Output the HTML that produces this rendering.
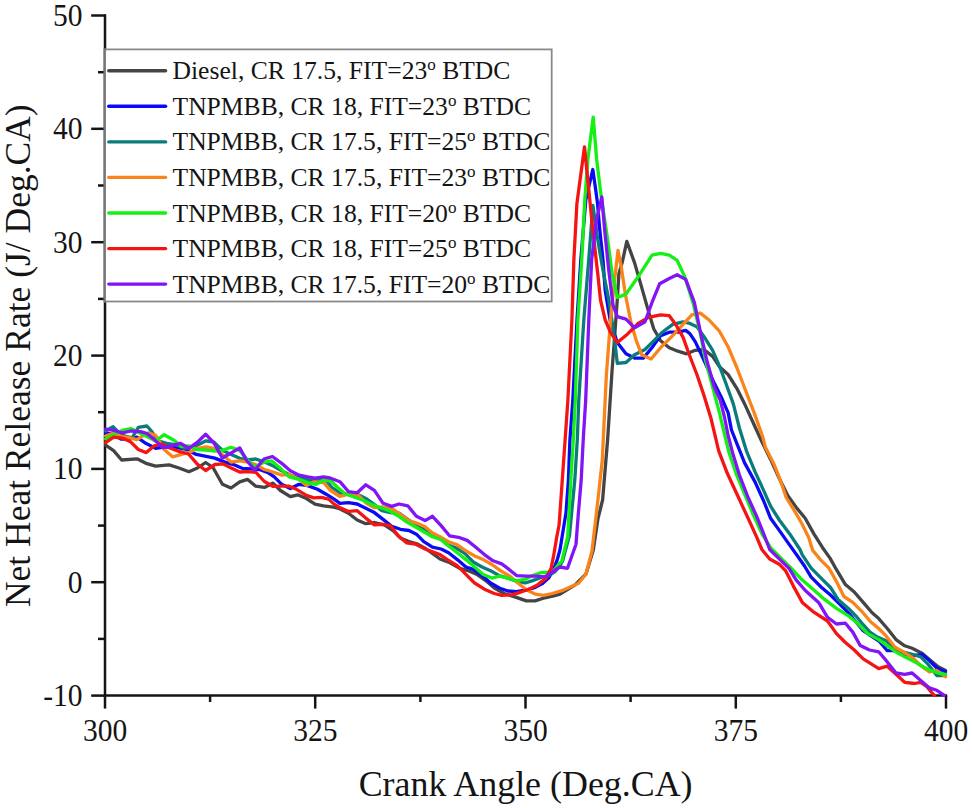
<!DOCTYPE html><html><head><meta charset="utf-8"><style>html,body{margin:0;padding:0;background:#fff;width:972px;height:808px;overflow:hidden}svg{display:block}text{font-family:"Liberation Serif",serif;fill:#141414}</style></head><body>
<svg width="972" height="808" viewBox="0 0 972 808">
<g stroke="#141414" stroke-width="2.5" fill="none">
<line x1="105.0" y1="14.3" x2="105.0" y2="696.8"/>
<line x1="103.8" y1="695.6" x2="947.2" y2="695.6"/>
<line x1="91.2" y1="695.6" x2="105.0" y2="695.6"/>
<line x1="91.2" y1="582.2" x2="105.0" y2="582.2"/>
<line x1="91.2" y1="468.9" x2="105.0" y2="468.9"/>
<line x1="91.2" y1="355.6" x2="105.0" y2="355.6"/>
<line x1="91.2" y1="242.2" x2="105.0" y2="242.2"/>
<line x1="91.2" y1="128.8" x2="105.0" y2="128.8"/>
<line x1="91.2" y1="15.5" x2="105.0" y2="15.5"/>
<line x1="98" y1="638.9" x2="105.0" y2="638.9"/>
<line x1="98" y1="525.6" x2="105.0" y2="525.6"/>
<line x1="98" y1="412.2" x2="105.0" y2="412.2"/>
<line x1="98" y1="298.9" x2="105.0" y2="298.9"/>
<line x1="98" y1="185.5" x2="105.0" y2="185.5"/>
<line x1="98" y1="72.2" x2="105.0" y2="72.2"/>
<line x1="105.0" y1="695.6" x2="105.0" y2="708.6"/>
<line x1="315.2" y1="695.6" x2="315.2" y2="708.6"/>
<line x1="525.5" y1="695.6" x2="525.5" y2="708.6"/>
<line x1="735.8" y1="695.6" x2="735.8" y2="708.6"/>
<line x1="946.0" y1="695.6" x2="946.0" y2="708.6"/>
<line x1="210.1" y1="695.6" x2="210.1" y2="702"/>
<line x1="420.4" y1="695.6" x2="420.4" y2="702"/>
<line x1="630.6" y1="695.6" x2="630.6" y2="702"/>
<line x1="840.9" y1="695.6" x2="840.9" y2="702"/>
</g>
<g fill="none" stroke-width="3.30" stroke-linejoin="round" stroke-linecap="round">
<polyline points="105.6,445.2 113.6,450.7 121.6,460.0 137.0,458.8 146.9,463.7 155.6,466.2 169.1,464.9 179.0,468.0 188.9,471.7 197.5,468.0 205.6,462.5 213.0,467.5 222.4,484.3 231.0,488.0 239.7,481.9 247.7,479.4 255.7,486.2 264.4,487.4 273.0,483.1 280.4,490.5 290.3,496.7 297.7,494.8 306.4,498.5 315.0,504.1 323.6,505.9 333.5,507.2 338.6,508.3 348.5,513.2 357.2,520.0 365.8,523.7 374.4,522.5 384.3,524.9 393.0,530.5 400.4,537.9 409.0,541.6 417.7,544.1 426.3,549.0 440.0,559.0 449.9,562.7 459.8,568.2 469.6,571.3 477.0,574.4 485.7,580.6 494.3,588.0 504.2,593.5 514.1,596.6 526.4,600.9 535.1,600.9 544.9,597.8 553.6,596.0 560.0,594.1 574.8,585.2 586.0,574.0 593.3,550.0 598.0,518.5 602.6,500.0 607.6,440.0 612.1,369.9 613.7,349.3 617.3,299.3 618.9,273.8 622.5,261.2 626.8,241.3 634.6,262.9 641.6,287.1 648.5,311.4 653.7,328.7 660.6,340.8 669.3,347.7 677.9,351.2 686.6,353.8 695.2,350.3 703.9,349.5 712.6,356.4 719.4,366.7 728.1,374.5 736.8,388.3 745.4,405.6 754.1,424.7 762.0,442.1 770.6,459.4 779.3,478.5 787.9,495.8 796.6,507.9 805.2,518.3 813.9,533.9 822.6,547.7 830.0,558.1 836.5,569.7 845.4,584.6 854.3,592.0 863.2,602.4 872.1,612.8 878.7,618.6 887.3,628.5 896.0,639.6 904.7,645.8 912.1,648.3 922.0,653.2 930.6,660.6 938.1,666.8 945.5,670.5" stroke="#444444"/>
<polyline points="105.6,433.5 112.3,434.0 121.0,439.0 129.6,439.0 137.0,437.2 145.7,443.3 155.6,448.3 164.2,447.0 174.0,447.0 186.4,449.5 196.3,454.4 206.2,456.3 214.8,458.1 224.9,462.1 233.5,464.6 242.2,468.3 250.8,468.9 259.4,469.5 268.1,472.6 274.3,476.9 281.7,484.3 290.3,488.6 299.0,484.3 307.6,485.6 317.5,489.3 326.1,494.2 334.1,499.1 339.9,503.3 348.5,502.7 357.2,504.0 365.8,508.3 374.4,512.6 383.1,519.4 391.7,526.2 400.4,529.3 409.0,530.5 416.4,534.2 423.8,541.6 432.5,547.2 441.1,549.0 448.6,552.8 457.3,559.6 465.9,567.0 473.3,569.4 482.0,575.6 490.6,583.0 499.3,588.0 507.9,591.0 516.5,591.7 526.4,589.8 533.8,588.0 542.5,583.6 548.6,578.1 553.6,569.4 557.3,559.6 560.0,549.7 566.0,512.8 568.4,480.0 569.9,440.0 572.8,400.0 577.0,320.0 580.8,260.0 585.8,200.0 592.8,169.5 595.7,189.7 597.5,203.4 599.7,229.3 603.0,260.0 605.2,290.6 610.4,321.8 617.3,342.6 626.0,353.8 634.6,358.1 643.3,358.1 651.9,347.7 660.6,335.6 669.3,332.2 677.9,332.2 685.7,330.4 690.0,333.8 695.2,341.6 700.4,352.5 707.3,367.5 714.2,383.1 721.2,397.0 728.1,412.6 731.5,430.0 737.7,445.6 744.6,462.9 755.0,481.9 763.7,501.0 770.6,518.3 779.3,530.4 787.9,542.6 796.6,554.7 804.5,566.0 811.2,577.1 821.6,587.5 830.5,595.0 839.4,603.9 848.4,612.8 855.8,621.7 863.2,630.6 872.1,636.6 879.0,641.0 887.3,650.7 894.8,650.7 903.4,654.5 913.3,655.7 922.0,654.5 929.4,660.6 936.8,668.0 945.5,671.8" stroke="#0a0af5"/>
<polyline points="105.6,431.0 113.0,426.7 118.5,432.2 124.7,436.0 132.1,437.8 138.3,427.3 146.9,426.0 151.9,431.6 158.0,440.9 166.7,443.3 175.3,444.6 184.0,448.3 193.8,447.0 206.0,440.8 214.0,442.2 222.8,450.6 231.2,454.5 239.7,458.3 247.5,459.8 255.9,459.0 264.4,462.1 273.0,465.8 281.7,470.7 291.5,475.7 301.4,478.1 311.3,480.6 320.0,479.4 326.1,480.6 332.0,487.5 339.9,492.8 348.5,494.7 358.4,494.7 365.8,498.4 374.4,504.6 381.9,510.7 390.5,512.6 399.1,513.2 407.8,519.4 416.4,525.6 425.1,529.3 433.7,534.2 442.3,539.1 447.4,544.8 456.0,547.8 464.7,553.4 473.3,562.0 482.0,567.0 490.6,570.7 499.3,575.6 507.9,578.1 516.5,581.2 525.2,583.0 532.6,580.6 541.2,577.5 548.6,575.6 554.8,571.9 560.0,565.7 562.5,561.3 569.5,535.3 574.8,480.0 577.3,440.0 578.8,400.0 583.8,320.0 588.8,259.0 592.9,205.4 597.7,239.2 601.5,262.0 604.6,278.8 608.7,299.3 613.9,333.9 617.3,363.3 626.0,362.5 634.6,354.7 645.0,349.5 653.7,340.8 662.3,332.2 672.7,324.4 683.1,321.8 690.0,323.4 696.9,326.8 703.9,336.4 712.5,350.2 719.4,365.8 726.4,384.8 733.3,403.9 739.4,428.0 746.4,450.8 755.0,471.6 763.7,490.6 770.6,506.2 779.3,520.0 789.7,533.9 800.0,549.5 802.3,554.9 811.2,568.2 821.6,578.6 830.5,587.5 838.0,599.4 848.4,608.4 855.8,615.8 863.2,624.7 870.0,632.2 877.4,637.1 886.1,640.8 894.8,648.3 903.4,652.0 913.3,654.5 920.7,656.9 928.2,664.4 936.8,675.5 945.5,675.5" stroke="#0a7c7c"/>
<polyline points="105.6,436.0 112.3,433.5 122.2,436.5 129.6,437.8 137.0,439.6 140.7,437.2 148.1,432.8 155.6,435.3 164.2,449.5 172.8,456.9 181.5,454.4 190.1,452.0 197.5,448.3 206.2,447.0 213.6,448.3 222.4,454.7 231.0,462.1 239.7,460.9 248.3,462.1 255.7,464.6 264.4,469.5 273.0,472.0 281.7,475.1 289.1,474.4 299.0,479.4 306.4,485.6 313.8,481.9 323.6,482.5 330.0,490.0 339.9,496.5 348.5,494.1 358.4,495.3 365.8,502.7 374.4,507.7 383.1,507.0 391.7,508.3 400.4,514.4 409.0,520.6 416.4,523.1 425.1,526.8 432.5,533.0 441.1,537.3 448.6,541.7 457.3,544.8 465.9,550.9 474.6,555.9 483.2,559.6 491.9,564.5 500.5,570.7 509.1,575.6 517.8,583.0 526.4,589.8 535.1,594.1 543.7,595.4 552.3,593.5 561.9,590.7 578.5,583.3 586.0,574.0 592.0,550.9 596.2,515.0 599.0,490.0 602.3,460.0 606.3,376.1 610.4,321.7 614.5,280.8 618.0,250.5 621.3,267.2 625.4,294.5 630.8,321.7 636.3,340.7 641.6,354.7 651.1,359.0 660.6,347.7 672.7,335.6 683.1,324.4 691.8,314.8 700.4,313.1 709.1,320.0 719.4,331.2 728.1,346.8 736.8,367.5 745.4,390.0 754.1,412.6 762.7,436.8 765.4,447.3 774.1,464.6 781.0,481.9 786.2,497.5 794.8,511.4 801.8,523.5 808.7,537.4 812.7,550.4 820.1,559.3 829.0,568.2 836.5,581.6 843.9,596.5 852.8,602.4 861.7,611.3 870.6,621.7 878.7,628.5 886.1,635.9 894.8,647.0 903.4,652.0 913.3,658.2 920.7,665.6 929.4,671.8 936.8,670.5 945.5,676.7" stroke="#fa841a"/>
<polyline points="105.6,439.0 113.6,434.7 122.2,430.4 130.9,428.5 140.7,433.5 149.4,437.8 155.6,440.9 164.2,434.7 174.0,440.2 181.5,446.4 188.9,445.8 196.3,449.5 206.2,450.1 215.0,451.0 222.4,450.4 231.0,447.3 239.7,450.4 247.1,459.6 254.5,467.0 264.4,462.1 271.8,460.9 280.4,468.3 289.1,476.9 299.0,479.4 308.8,483.1 316.2,484.3 323.6,480.0 331.0,481.0 337.4,487.3 344.8,493.5 354.7,497.2 363.3,500.2 372.0,504.6 380.6,507.7 389.3,510.7 397.9,515.7 406.5,521.9 415.2,526.8 423.8,531.7 432.5,536.7 441.1,539.8 448.6,546.0 457.3,552.8 465.9,559.6 474.6,567.0 483.2,574.4 491.9,578.1 499.3,576.2 507.9,578.1 516.5,580.6 525.2,579.3 532.6,575.6 541.2,572.5 547.4,572.5 553.6,570.7 558.5,564.5 561.7,561.3 567.7,537.0 570.8,480.0 573.3,440.0 575.3,400.0 577.9,320.0 581.8,259.0 584.8,199.6 587.8,160.0 593.2,117.1 596.7,160.0 601.6,199.6 607.6,239.2 612.1,273.3 617.3,297.5 626.0,294.1 638.1,276.8 652.0,255.1 660.6,253.4 669.3,255.1 677.1,260.3 684.8,276.8 693.5,304.5 700.4,333.9 705.6,360.6 712.5,386.6 719.4,412.6 724.0,432.0 729.0,452.5 736.0,473.3 744.6,494.1 753.3,514.8 762.0,533.9 770.6,547.7 782.7,559.9 791.9,569.0 802.3,580.1 812.7,589.0 824.6,599.4 836.5,608.4 848.4,615.8 857.3,623.2 867.7,633.6 878.7,639.6 887.3,645.8 896.0,652.0 904.7,656.9 914.6,661.9 923.2,666.8 930.6,670.5 938.1,673.0 945.5,674.3" stroke="#14f014"/>
<polyline points="105.6,442.7 113.6,437.2 123.5,438.4 130.9,442.1 138.3,449.5 146.3,452.6 154.3,445.8 161.7,444.0 170.4,448.3 179.0,451.4 188.5,454.0 197.5,464.3 205.6,470.5 215.0,464.5 222.8,463.8 231.2,468.0 239.7,472.0 248.1,471.7 255.9,472.3 264.4,481.5 272.8,486.3 281.7,486.2 289.1,486.2 296.5,489.3 306.4,495.4 313.8,497.9 321.2,497.3 328.6,499.1 334.1,504.1 338.6,507.0 348.5,511.4 357.2,510.7 365.8,518.1 374.4,524.9 383.1,524.3 390.5,525.6 397.9,535.4 406.5,542.8 415.2,544.1 425.1,549.0 440.0,554.6 447.4,559.6 457.3,565.7 465.9,574.4 474.6,583.0 484.4,589.2 494.3,593.5 501.7,595.4 511.6,594.8 520.2,592.3 528.9,589.2 537.5,584.9 546.2,578.1 551.1,568.2 553.6,555.9 556.7,537.3 559.1,525.0 565.1,440.0 567.9,400.0 571.9,320.0 573.9,259.0 576.9,203.6 584.5,146.8 589.0,192.0 593.0,232.0 597.9,275.0 600.5,300.0 605.2,320.0 610.4,332.2 617.3,342.6 627.7,333.9 638.1,323.5 648.5,317.4 660.6,314.8 669.3,315.7 676.2,325.2 683.1,337.4 689.0,354.0 696.9,374.5 703.9,395.2 710.8,417.7 718.7,450.8 727.3,473.3 737.7,495.8 748.1,518.3 756.8,537.4 761.9,549.5 769.7,559.0 779.3,564.2 785.9,571.2 793.4,586.1 802.3,602.4 812.7,611.3 827.5,621.0 836.5,633.6 845.4,642.5 854.3,650.0 863.2,658.9 870.0,663.1 878.7,668.7 887.3,666.2 896.0,674.3 904.7,682.3 914.6,683.5 920.7,682.3 926.9,686.6 931.9,692.8 934.4,695.3" stroke="#f51414"/>
<polyline points="105.6,429.1 113.6,430.4 122.2,432.8 130.9,431.0 140.7,431.6 146.9,433.5 154.3,439.6 163.0,447.7 171.6,445.8 180.2,443.3 188.9,448.3 197.5,442.1 205.6,434.2 214.0,443.0 222.3,458.0 230.7,453.2 239.7,447.9 247.0,461.0 254.8,470.0 263.9,459.0 272.4,456.5 281.7,463.3 290.3,470.7 299.0,475.1 307.6,476.9 315.0,478.1 323.6,476.9 330.0,478.0 339.9,481.7 348.5,491.6 357.2,492.8 365.8,484.8 374.4,490.4 383.1,503.3 391.7,506.4 399.1,504.0 407.8,505.8 416.4,516.3 425.1,520.6 432.5,516.3 441.1,525.6 449.5,535.8 458.5,537.3 467.2,540.4 475.8,547.2 484.4,554.6 493.1,560.8 501.7,563.9 509.1,569.4 516.5,575.6 526.4,576.2 536.3,576.2 544.9,576.9 551.1,573.1 556.0,569.4 560.0,567.0 567.5,568.3 576.0,544.2 578.3,514.0 581.2,480.0 583.2,440.0 585.7,400.0 588.8,320.0 591.7,259.0 596.7,219.4 601.8,197.0 604.6,229.3 608.6,268.9 613.0,305.0 617.3,316.6 626.0,319.2 634.6,327.8 645.0,321.8 651.9,302.7 659.7,283.7 669.3,278.5 677.1,274.7 685.7,279.4 694.4,302.7 700.4,332.0 707.3,362.3 714.2,386.6 720.3,400.4 724.6,417.7 728.0,435.0 732.5,452.5 739.4,475.0 748.1,497.5 756.8,516.6 763.7,533.9 769.7,549.5 779.5,559.1 788.9,568.2 796.3,580.1 805.3,590.5 818.6,602.4 827.5,617.3 836.5,624.0 845.4,623.2 852.8,632.1 860.2,645.5 869.5,650.0 878.7,651.8 887.3,661.9 896.0,673.0 904.7,674.3 912.1,673.0 920.7,680.4 929.4,687.9 936.8,690.3 944.3,695.3" stroke="#8214f5"/>
</g>
<rect x="104.7" y="49.4" width="447.0" height="252.1" fill="#fff" stroke="#8a8a8a" stroke-width="1.8"/>
<line x1="104.7" y1="48.5" x2="104.7" y2="302.4" stroke="#767676" stroke-width="2.2"/>
<line x1="108.8" y1="70.8" x2="165.6" y2="70.8" stroke="#444444" stroke-width="3.4" stroke-linecap="round"/>
<text x="172.5" y="79.3" font-size="25.6">Diesel, CR 17.5, FIT=23<tspan font-size="17" dy="-9">o</tspan><tspan dy="9"> BTDC</tspan></text>
<line x1="108.8" y1="106.3" x2="165.6" y2="106.3" stroke="#0a0af5" stroke-width="3.4" stroke-linecap="round"/>
<text x="172.5" y="114.8" font-size="25.6">TNPMBB, CR 18, FIT=23<tspan font-size="17" dy="-9">o</tspan><tspan dy="9"> BTDC</tspan></text>
<line x1="108.8" y1="141.9" x2="165.6" y2="141.9" stroke="#0a7c7c" stroke-width="3.4" stroke-linecap="round"/>
<text x="172.5" y="150.4" font-size="25.6">TNPMBB, CR 17.5, FIT=25<tspan font-size="17" dy="-9">o</tspan><tspan dy="9"> BTDC</tspan></text>
<line x1="108.8" y1="177.4" x2="165.6" y2="177.4" stroke="#fa841a" stroke-width="3.4" stroke-linecap="round"/>
<text x="172.5" y="185.9" font-size="25.6">TNPMBB, CR 17.5, FIT=23<tspan font-size="17" dy="-9">o</tspan><tspan dy="9"> BTDC</tspan></text>
<line x1="108.8" y1="213.0" x2="165.6" y2="213.0" stroke="#14f014" stroke-width="3.4" stroke-linecap="round"/>
<text x="172.5" y="221.5" font-size="25.6">TNPMBB, CR 18, FIT=20<tspan font-size="17" dy="-9">o</tspan><tspan dy="9"> BTDC</tspan></text>
<line x1="108.8" y1="248.6" x2="165.6" y2="248.6" stroke="#f51414" stroke-width="3.4" stroke-linecap="round"/>
<text x="172.5" y="257.1" font-size="25.6">TNPMBB, CR 18, FIT=25<tspan font-size="17" dy="-9">o</tspan><tspan dy="9"> BTDC</tspan></text>
<line x1="108.8" y1="284.1" x2="165.6" y2="284.1" stroke="#8214f5" stroke-width="3.4" stroke-linecap="round"/>
<text x="172.5" y="292.6" font-size="25.6">TNPMBB, CR 17.5, FIT=20<tspan font-size="17" dy="-9">o</tspan><tspan dy="9"> BTDC</tspan></text>
<text transform="translate(82.5,705.90) scale(1,1.065)" font-size="29.5" text-anchor="end">-10</text>
<text transform="translate(82.5,592.55) scale(1,1.065)" font-size="29.5" text-anchor="end">0</text>
<text transform="translate(82.5,479.20) scale(1,1.065)" font-size="29.5" text-anchor="end">10</text>
<text transform="translate(82.5,365.85) scale(1,1.065)" font-size="29.5" text-anchor="end">20</text>
<text transform="translate(82.5,252.50) scale(1,1.065)" font-size="29.5" text-anchor="end">30</text>
<text transform="translate(82.5,139.15) scale(1,1.065)" font-size="29.5" text-anchor="end">40</text>
<text transform="translate(82.5,25.80) scale(1,1.065)" font-size="29.5" text-anchor="end">50</text>
<text transform="translate(105.00,740.8) scale(1,1.065)" font-size="29.5" text-anchor="middle">300</text>
<text transform="translate(315.25,740.8) scale(1,1.065)" font-size="29.5" text-anchor="middle">325</text>
<text transform="translate(525.50,740.8) scale(1,1.065)" font-size="29.5" text-anchor="middle">350</text>
<text transform="translate(735.75,740.8) scale(1,1.065)" font-size="29.5" text-anchor="middle">375</text>
<text transform="translate(946.00,740.8) scale(1,1.065)" font-size="29.5" text-anchor="middle">400</text>
<text x="525.6" y="795.6" font-size="35.9" text-anchor="middle">Crank Angle (Deg.CA)</text>
<text transform="translate(29.7,355.7) rotate(-90)" x="0" y="0" font-size="35.5" text-anchor="middle">Net Heat Release Rate (J/ Deg.CA)</text>
</svg></body></html>
